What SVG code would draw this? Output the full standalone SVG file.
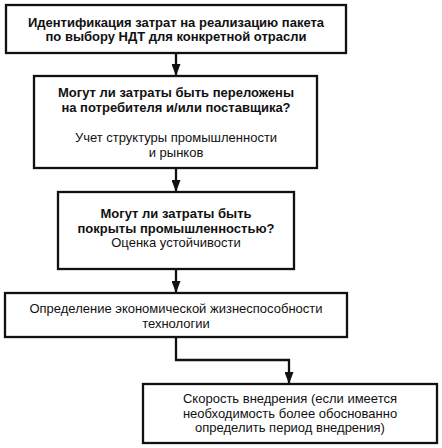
<svg xmlns="http://www.w3.org/2000/svg" width="442" height="448" viewBox="0 0 442 448">
<style>
.box{fill:#fff;stroke:#111;stroke-width:2.3}
.t{font-family:"Liberation Sans",Arial,sans-serif;font-size:13px;fill:#111;text-anchor:middle}
.b{font-weight:bold}
.c{fill:none;stroke:#111;stroke-width:2.3}
</style>
<defs>
<marker id="ah" viewBox="0 0 12 9" refX="12" refY="4.5" markerWidth="12" markerHeight="9" markerUnits="userSpaceOnUse" orient="auto">
<path d="M0,0 L12,4.5 L0,9 z" fill="#111"/>
</marker>
</defs>
<rect width="442" height="448" fill="#fff"/>
<g id="connectors">
<path class="c" d="M176,53 V76" marker-end="url(#ah)"/>
<path class="c" d="M176,168 V192" marker-end="url(#ah)"/>
<path class="c" d="M176,269 V293" marker-end="url(#ah)"/>
<path class="c" d="M176,337 V360 H289 V384" marker-end="url(#ah)"/>
</g>
<g id="n1">
<rect class="box" x="6" y="5" width="340" height="48"/>
<text class="t b" x="176" y="26.5">Идентификация затрат на реализацию пакета</text>
<text class="t b" x="176" y="41">по выбору НДТ для конкретной отрасли</text>
</g>
<g id="n2">
<rect class="box" x="34" y="76" width="283" height="92"/>
<text class="t b" x="176" y="97">Могут ли затраты быть переложены</text>
<text class="t b" x="176" y="112">на потребителя и/или поставщика?</text>
<text class="t" x="176" y="142">Учет структуры промышленности</text>
<text class="t" x="176" y="157">и рынков</text>
</g>
<g id="n3">
<rect class="box" x="58" y="192" width="236" height="77"/>
<text class="t b" x="176" y="218">Могут ли затраты быть</text>
<text class="t b" x="176" y="232.5">покрыты промышленностью?</text>
<text class="t" x="176" y="247">Оценка устойчивости</text>
</g>
<g id="n4">
<rect class="box" x="5" y="293" width="342" height="44"/>
<text class="t" x="176" y="313">Определение экономической жизнеспособности</text>
<text class="t" x="176" y="328">технологии</text>
</g>
<g id="n5">
<rect class="box" x="143" y="384" width="294" height="59"/>
<text class="t" x="290" y="403">Скорость внедрения (если имеется</text>
<text class="t" x="290" y="417.5">необходимость более обоснованно</text>
<text class="t" x="290" y="432">определить период внедрения)</text>
</g>
</svg>
